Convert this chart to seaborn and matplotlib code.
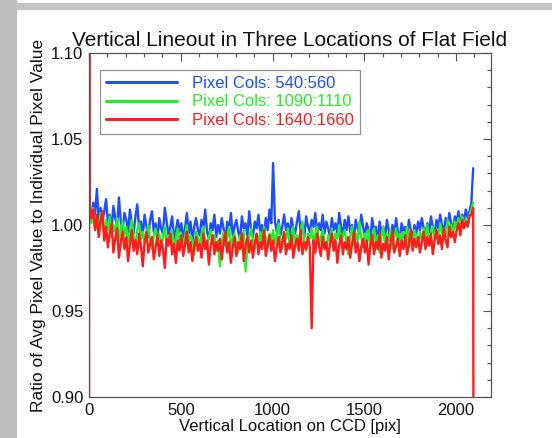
import numpy as np
import pandas as pd
import matplotlib
matplotlib.use("Agg")
import matplotlib.pyplot as plt
import seaborn as sns
from matplotlib.patches import Rectangle
from matplotlib.ticker import MultipleLocator, FormatStrFormatter

# sample rows along the CCD (every 10th row)
rows = list(range(3, 2094, 10))

blue_vals = [
    1.009, 1.004, 1.013, 1.006, 1.021, 1.003, 1.010, 1.002, 1.008, 1.015,
    1.001, 1.006, 0.998, 1.011, 1.004, 0.999, 1.016, 1.002, 0.997, 1.007,
    1.003, 0.996, 1.009, 1.001, 0.995, 1.005, 1.012, 0.998, 1.002, 0.994,
    1.006, 0.999, 0.993, 1.003, 1.008, 0.996, 1.001, 0.992, 1.004, 0.998,
    0.995, 1.010, 1.002, 0.994, 0.999, 1.005, 0.991, 0.997, 1.003, 0.996,
    1.001, 0.993, 0.998, 1.007, 0.995, 1.002, 0.990, 0.999, 1.004, 0.997,
    0.994, 1.003, 0.998, 1.009, 0.996, 0.992, 1.001, 0.997, 1.006, 0.993,
    1.000, 0.995, 1.004, 0.998, 0.991, 1.002, 0.996, 1.007, 0.994, 0.999,
    1.003, 0.996, 0.992, 1.005, 0.998, 1.001, 0.994, 1.008, 0.997, 0.993,
    1.002, 0.998, 1.006, 0.995, 1.000, 0.993, 1.004, 0.997, 1.009, 1.001,
    1.036, 1.002, 0.996, 1.003, 0.994, 0.999, 1.006, 0.997, 1.001, 0.993,
    1.004, 0.998, 0.995, 1.002, 1.008, 0.996, 1.000, 0.993, 1.005, 0.999,
    0.996, 1.003, 0.999, 1.007, 0.994, 1.001, 0.997, 1.006, 0.995, 1.002,
    0.998, 0.993, 1.004, 0.997, 1.001, 0.995, 1.007, 0.999, 0.994, 1.003,
    0.997, 1.005, 0.996, 1.000, 0.992, 1.003, 0.998, 0.995, 1.006, 0.999,
    0.994, 1.001, 0.997, 0.992, 1.004, 0.996, 0.999, 0.990, 1.002, 0.995,
    0.999, 0.993, 1.003, 0.997, 0.991, 1.000, 0.995, 1.004, 0.996, 0.992,
    1.001, 0.996, 0.999, 0.994, 1.003, 0.997, 0.992, 1.000, 0.995, 1.002,
    0.997, 1.004, 0.998, 0.995, 1.001, 0.996, 1.005, 0.999, 0.994, 1.003,
    0.998, 1.006, 1.000, 0.996, 1.004, 0.999, 1.007, 1.001, 0.997, 1.005,
    1.002, 1.008, 0.999, 1.006, 1.003, 1.009, 1.004, 1.008, 1.013, 1.033,
]

green_vals = [
    1.006, 1.001, 1.010, 0.998, 1.004, 0.996, 1.007, 1.000, 0.995, 1.003,
    0.997, 1.005, 0.993, 1.000, 0.996, 1.004, 0.991, 0.998, 1.002, 0.994,
    0.999, 0.990, 0.996, 1.003, 0.993, 0.988, 0.997, 1.001, 0.992, 0.996,
    0.989, 0.995, 1.000, 0.991, 0.986, 0.994, 0.998, 0.990, 0.995, 0.987,
    0.993, 0.999, 0.988, 0.994, 0.991, 0.997, 0.985, 0.992, 0.998, 0.990,
    0.995, 0.987, 0.993, 1.000, 0.989, 0.994, 0.991, 0.983, 0.996, 0.992,
    0.988, 0.995, 0.999, 0.990, 0.986, 0.993, 0.997, 0.989, 0.994, 0.985,
    0.991, 0.976, 0.990, 0.996, 0.988, 0.993, 0.999, 0.987, 0.992, 0.995,
    0.989, 0.984, 0.994, 0.990, 0.997, 0.973, 0.988, 0.993, 0.998, 0.991,
    0.986, 0.994, 0.990, 0.996, 0.988, 0.999, 0.992, 0.987, 0.995, 0.991,
    0.997, 0.989, 0.994, 1.001, 0.990, 0.986, 0.995, 0.992, 0.998, 0.988,
    0.993, 0.999, 0.987, 0.994, 0.990, 0.996, 1.002, 0.991, 0.985, 0.995,
    0.992, 0.998, 0.989, 0.995, 0.999, 0.988, 0.993, 0.997, 0.990, 0.986,
    0.994, 0.991, 0.998, 0.987, 0.995, 0.992, 1.000, 0.989, 0.994, 0.997,
    0.990, 0.983, 0.993, 0.999, 0.988, 0.995, 0.991, 1.002, 0.993, 0.987,
    0.995, 0.990, 0.997, 0.986, 0.992, 0.998, 0.989, 0.994, 0.984, 0.993,
    0.999, 0.988, 0.995, 0.991, 0.997, 0.986, 0.993, 0.998, 0.990, 0.995,
    0.989, 0.996, 0.992, 0.999, 0.987, 0.994, 0.990, 0.997, 0.993, 0.988,
    0.996, 0.991, 0.998, 0.993, 1.000, 0.989, 0.995, 0.999, 0.992, 0.997,
    0.993, 1.001, 0.995, 0.998, 0.992, 1.003, 0.997, 1.000, 0.994, 1.002,
    0.998, 1.004, 0.999, 1.005, 1.001, 1.003, 0.999, 1.006, 1.009, 1.013,
]

red_vals = [
    1.013, 1.004, 1.009, 0.997, 1.006, 0.993, 1.002, 1.008, 0.991, 0.999,
    0.987, 0.995, 1.001, 0.984, 0.992, 0.998, 0.981, 0.990, 0.996, 0.986,
    0.993, 0.979, 0.989, 0.997, 0.985, 0.991, 0.983, 0.995, 0.988, 0.976,
    0.990, 0.996, 0.984, 0.989, 0.993, 0.980, 0.987, 0.994, 0.982, 0.991,
    0.986, 0.975, 0.992, 0.988, 0.995, 0.983, 0.989, 0.978, 0.991, 0.985,
    0.994, 0.982, 0.988, 0.996, 0.984, 0.990, 0.979, 0.987, 0.993, 0.985,
    0.989, 0.981, 0.995, 0.986, 0.991, 0.977, 0.988, 0.994, 0.983, 0.990,
    0.985, 0.992, 0.980, 0.989, 0.996, 0.984, 0.990, 0.978, 0.987, 0.993,
    0.982, 0.990, 0.986, 0.995, 0.979, 0.988, 0.993, 0.984, 0.991, 0.981,
    0.989, 0.995, 0.983, 0.990, 0.986, 0.997, 0.982, 0.988, 0.994, 0.985,
    0.991, 0.979, 0.987, 0.993, 0.984, 0.990, 0.996, 0.983, 0.989, 0.986,
    0.994, 0.981, 0.988, 0.992, 0.985, 0.997, 0.983, 0.990, 0.986, 0.993,
    0.987, 0.940, 0.991, 0.984, 0.995, 0.988, 0.982, 0.993, 0.986, 0.990,
    0.980, 0.989, 0.995, 0.985, 0.991, 0.978, 0.988, 0.994, 0.983, 0.990,
    0.986, 0.993, 0.981, 0.989, 0.996, 0.984, 0.990, 0.979, 0.987, 0.992,
    0.984, 0.991, 0.977, 0.988, 0.994, 0.983, 0.990, 0.986, 0.995, 0.981,
    0.989, 0.985, 0.993, 0.980, 0.990, 0.996, 0.984, 0.988, 0.992, 0.982,
    0.991, 0.986, 0.994, 0.983, 0.989, 0.997, 0.985, 0.992, 0.987, 0.993,
    0.984, 0.990, 0.996, 0.986, 0.993, 0.988, 0.995, 0.983, 0.991, 0.997,
    0.989, 0.994, 0.986, 0.998, 0.991, 0.987, 0.999, 0.993, 0.996, 0.990,
    0.997, 1.001, 0.994, 1.003, 0.998, 1.002, 0.999, 1.005, 1.006, 1.010,
]

# edge rows of the red lineout that shoot off the scale
red_head_rows = [0, 1]
red_head_vals = [0.80, 1.20]
red_tail_rows = [2095]
red_tail_vals = [0.80]

labels = ["Pixel Cols: 540:560", "Pixel Cols: 1090:1110", "Pixel Cols: 1640:1660"]
colors = ["#1f4dff", "#22f022", "#ff1c1c"]

df = pd.concat([
    pd.DataFrame({"row": rows, "ratio": blue_vals, "series": labels[0]}),
    pd.DataFrame({"row": rows, "ratio": green_vals, "series": labels[1]}),
    pd.DataFrame({"row": red_head_rows + rows + red_tail_rows,
                  "ratio": red_head_vals + red_vals + red_tail_vals,
                  "series": labels[2]}),
], ignore_index=True)

sns.set_style("white")
plt.rcParams["font.family"] = ["Liberation Sans", "DejaVu Sans"]

fig = plt.figure(figsize=(5.52, 4.38), dpi=100)
# grey frame of the screenshot
fig.patches.append(Rectangle((0, 0), 16 / 552, 1, transform=fig.transFigure,
                             color="#bebebe", zorder=0))
fig.patches.append(Rectangle((16 / 552, 1 - 9 / 438), 1, 6 / 438,
                             transform=fig.transFigure, color="#c4c4c4", zorder=0))

ax = fig.add_axes([89 / 552, 1 - 397 / 438, 402 / 552, 344 / 438])
sns.lineplot(data=df, x="row", y="ratio", hue="series", palette=colors,
             estimator=None, sort=False, linewidth=1.7, ax=ax)

ax.set_xlim(0, 2190)
ax.set_ylim(0.90, 1.10)
ax.xaxis.set_major_locator(MultipleLocator(500))
ax.xaxis.set_minor_locator(MultipleLocator(100))
ax.yaxis.set_major_locator(MultipleLocator(0.05))
ax.yaxis.set_minor_locator(MultipleLocator(0.01))
ax.yaxis.set_major_formatter(FormatStrFormatter("%.2f"))
ax.tick_params(which="both", direction="in", top=True, right=True,
               color="#555555", width=0.8, labelsize=12, labelcolor="#111111")
ax.tick_params(which="major", length=6, pad=4)
ax.tick_params(which="minor", length=3)
for s in ax.spines.values():
    s.set_color("#555555")
    s.set_linewidth(0.9)

ax.set_title("Vertical Lineout in Three Locations of Flat Field",
             fontsize=15, color="#111111", pad=5)
ax.set_xlabel("Vertical Location on CCD [pix]", fontsize=12, color="#111111", labelpad=1)
ax.set_ylabel("Ratio of Avg Pixel Value to Individual Pixel Value",
              fontsize=12.5, color="#111111", labelpad=4)

handles, _ = ax.get_legend_handles_labels()
leg = ax.legend(handles, labels, loc="upper left", bbox_to_anchor=(0.027, 0.95),
                frameon=True, fancybox=False, edgecolor="#777777", fontsize=12,
                handlelength=4.3, handletextpad=0.9, labelspacing=0.2,
                borderpad=0.35, borderaxespad=0)
leg.get_frame().set_linewidth(0.9)
for txt, c in zip(leg.get_texts(), colors):
    txt.set_color(c)
for ln in leg.get_lines():
    ln.set_linewidth(2.2)

fig.savefig("out.png", dpi=100)
